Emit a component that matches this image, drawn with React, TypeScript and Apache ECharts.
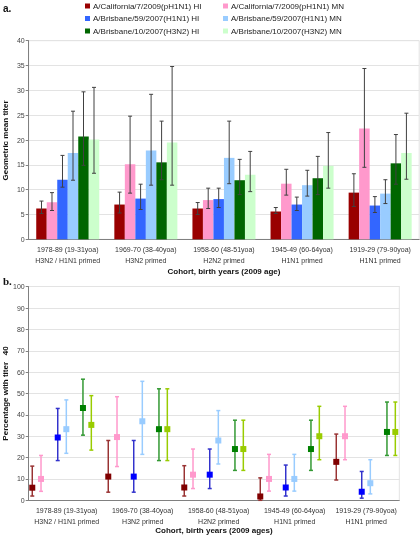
import React, { useEffect, useRef } from "react";
import * as echarts from "echarts";

const cohorts = [
  "1978-89 (19-31yoa)",
  "1969-70 (38-40yoa)",
  "1958-60 (48-51yoa)",
  "1945-49 (60-64yoa)",
  "1919-29 (79-90yoa)",
];
const primed = ["H3N2 / H1N1 primed", "H3N2 primed", "H2N2 primed", "H1N1 primed", "H1N1 primed"];
const seriesNames = [
  "A/California/7/2009(pH1N1) HI",
  "A/California/7/2009(pH1N1) MN",
  "A/Brisbane/59/2007(H1N1) HI",
  "A/Brisbane/59/2007(H1N1) MN",
  "A/Brisbane/10/2007(H3N2) HI",
  "A/Brisbane/10/2007(H3N2) MN",
];
const topColors = ["#990000", "#FF99CC", "#3366FF", "#99CCFF", "#006600", "#CCFFCC"];
const botMarkerColors = ["#800000", "#FF99CC", "#0000FF", "#99CCFF", "#008000", "#99CC00"];
const botBarColors = ["#993333", "#FF99CC", "#3333CC", "#99CCFF", "#339933", "#99CC00"];

// Geometric mean titer: [value, upper, lower] per cohort
const gmtCalHI = [[6.2, 7.7, 5.2], [7.0, 9.5, 5.3], [6.2, 7.4, 5.0], [5.6, 6.4, 5.2], [9.4, 13.2, 6.6]];
const gmtCalMN = [[7.45, 9.4, 5.8], [15.1, 24.8, 9.3], [7.9, 10.3, 6.2], [11.2, 14.1, 8.9], [22.3, 34.4, 14.5]];
const gmtBrH1HI = [[12.0, 16.9, 10.5], [8.2, 11.1, 6.0], [8.1, 10.3, 6.4], [7.0, 8.5, 5.8], [6.8, 8.6, 5.4]];
const gmtBrH1MN = [[17.4, 25.8, 11.9], [17.9, 29.2, 10.9], [16.4, 23.8, 11.2], [10.9, 13.9, 8.7], [9.2, 12.0, 7.2]];
const gmtBrH3HI = [[20.7, 29.7, 14.9], [15.5, 23.8, 12.0], [11.9, 16.1, 9.0], [12.3, 16.7, 9.0], [15.3, 21.1, 11.1]];
const gmtBrH3MN = [[20.1, 30.6, 13.3], [19.5, 34.8, 10.9], [13.0, 17.7, 9.6], [14.8, 21.5, 10.3], [17.4, 25.4, 12.1]];

// Percentage with titer >= 40: [value, upper, lower]
const pctCalHI = [[5.9, 16, 2], [11.1, 28, 3.8], [6, 16.2, 2], [1.8, 10.5, 0], [18, 31, 9.5]];
const pctCalMN = [[10, 21, 4.2], [29.6, 48.5, 15.8], [12, 24, 5.5], [10, 21.5, 4.3], [30, 44, 19]];
const pctBrH1HI = [[29.4, 43, 18.6], [11.1, 28, 3.8], [12, 24, 5.5], [6, 16.5, 2], [4, 13.5, 1]];
const pctBrH1MN = [[33.3, 47, 22], [37, 55.7, 21.5], [28, 42, 17], [10, 21.5, 4.3], [8, 19, 3]];
const pctBrH3HI = [[43.2, 56.7, 30.5], [33.3, 52.2, 18.6], [24, 37.5, 14], [24, 37.5, 14], [32, 46, 21]];
const pctBrH3MN = [[35.3, 49, 23.5], [33.3, 52.2, 18.6], [24, 37.5, 14], [30, 44, 19], [32, 46, 21]];

const gmtAll = [gmtCalHI, gmtCalMN, gmtBrH1HI, gmtBrH1MN, gmtBrH3HI, gmtBrH3MN];
const pctAll = [pctCalHI, pctCalMN, pctBrH1HI, pctBrH1MN, pctBrH3HI, pctBrH3MN];

const FONT = "Liberation Sans";
const BAR_GAP = 0.193;
const botOffsets = [-0.453, -0.338, -0.118, -0.005, 0.214, 0.324];

export default function App() {
  const ref = useRef<HTMLDivElement>(null);
  useEffect(() => {
    const chart = echarts.init(ref.current!, null, { renderer: "svg" });
    const catLabels = cohorts.map((c, i) => c + "\n" + primed[i]);
    const catLabelsBottom = catLabels.map((l, i) =>
      i === cohorts.length - 1 ? { value: l, textStyle: { padding: [0, 9, 0, 0] } } : l
    );

    const barSeries = gmtAll.map((arr, k) => ({
      name: seriesNames[k],
      type: "bar",
      xAxisIndex: 0,
      yAxisIndex: 0,
      barGap: "0%",
      barCategoryGap: BAR_GAP * 100 + "%",
      itemStyle: { color: topColors[k] },
      data: arr.map((d) => d[0]),
    }));

    const errTop = gmtAll.map((arr, k) => ({
      type: "custom",
      xAxisIndex: 0,
      yAxisIndex: 0,
      z: 5,
      data: arr.map((d, i) => [i, d[0], d[1], d[2]]),
      encode: { x: 0, y: 1 },
      renderItem: (params: any, api: any) => {
        const ci = api.value(0);
        const band = api.size([1, 0])[0];
        const bw = (band * (1 - BAR_GAP)) / 6;
        const c = api.coord([ci, api.value(1)]);
        const x = c[0] - (bw * 6) / 2 + (k + 0.5) * bw;
        const yh = api.coord([ci, api.value(2)])[1];
        const yl = api.coord([ci, api.value(3)])[1];
        const st = { stroke: "#404040", lineWidth: 1 };
        return {
          type: "group",
          children: [
            { type: "line", shape: { x1: x, y1: yh, x2: x, y2: yl }, style: st },
            { type: "line", shape: { x1: x - 2, y1: yh, x2: x + 2, y2: yh }, style: st },
            { type: "line", shape: { x1: x - 2, y1: yl, x2: x + 2, y2: yl }, style: st },
          ],
        };
      },
    }));

    const botSeries = pctAll.map((arr, k) => ({
      type: "custom",
      xAxisIndex: 1,
      yAxisIndex: 1,
      z: 5,
      data: arr.map((d, i) => [i, d[0], d[1], d[2]]),
      encode: { x: 0, y: 1 },
      renderItem: (params: any, api: any) => {
        const ci = api.value(0);
        const band = api.size([1, 0])[0];
        const c = api.coord([ci, api.value(1)]);
        const x = c[0] + botOffsets[k] * band;
        const y = c[1];
        const yh = api.coord([ci, api.value(2)])[1];
        const yl = api.coord([ci, api.value(3)])[1];
        const st = { stroke: botBarColors[k], lineWidth: 1.5 };
        return {
          type: "group",
          children: [
            { type: "line", shape: { x1: x, y1: yh, x2: x, y2: yl }, style: st },
            { type: "line", shape: { x1: x - 2, y1: yh, x2: x + 2, y2: yh }, style: st },
            { type: "line", shape: { x1: x - 2, y1: yl, x2: x + 2, y2: yl }, style: st },
            { type: "rect", shape: { x: x - 3, y: y - 3, width: 6, height: 6 }, style: { fill: botMarkerColors[k] } },
          ],
        };
      },
    }));

    const legendPos = [
      [85, 2], [223, 2],
      [85, 14.5], [223, 14.5],
      [85, 27], [223, 27],
    ];
    const legends = seriesNames.map((n, k) => ({
      data: [n],
      left: legendPos[k][0],
      top: legendPos[k][1],
      icon: "rect",
      itemWidth: 5,
      itemHeight: 5,
      itemGap: 0,
      padding: 0,
      selectedMode: false,
      textStyle: { fontFamily: FONT, fontSize: 8, color: "#222", padding: [0, 0, 0, -2] },
    }));

    const catAxis = (gridIndex: number, data: any[]) => ({
      type: "category",
      gridIndex,
      data,
      axisLine: { lineStyle: { color: "#808080", width: 1 } },
      axisTick: { length: 3, lineStyle: { color: "#808080" } },
      axisLabel: {
        margin: 5,
        fontFamily: FONT,
        fontSize: 7,
        lineHeight: 11,
        color: "#333",
        interval: 0,
      },
    });

    const valAxis = (gridIndex: number, max: number, interval: number) => ({
      type: "value",
      gridIndex,
      min: 0,
      max,
      interval,
      axisLine: { show: true, lineStyle: { color: "#808080", width: 1 } },
      axisTick: { show: true, length: 3, lineStyle: { color: "#808080" } },
      axisLabel: { fontFamily: FONT, fontSize: 7, color: "#444", margin: 4 },
      splitLine: { lineStyle: { color: "#E3E3E3", width: 1 } },
    });

    const nameStyle = { fontFamily: FONT, fontSize: 8, fontWeight: "bold", fill: "#111", align: "center", verticalAlign: "middle" };

    chart.setOption({
      animation: false,
      textStyle: { fontFamily: FONT },
      legend: legends,
      grid: [
        { left: 28.7, top: 40.7, width: 390.5, height: 198.6, show: true, borderColor: "#E3E3E3", borderWidth: 1, outerBoundsMode: "none", containLabel: false },
        { left: 28.7, top: 286.7, width: 380, height: 213.6, outerBoundsMode: "none", containLabel: false },
      ],
      xAxis: [catAxis(0, catLabels), catAxis(1, catLabelsBottom)],
      yAxis: [valAxis(0, 40, 5), valAxis(1, 100, 10)],
      series: [...barSeries, ...errTop, ...botSeries],
      graphic: [
        { type: "rect", z: 100, shape: { x: 399.8, y: 280, width: 21, height: 225 }, style: { fill: "#fff" } },
        { type: "line", z: 101, shape: { x1: 399.3, y1: 286.7, x2: 399.3, y2: 500.3 }, style: { stroke: "#E3E3E3", lineWidth: 1 } },
        { type: "text", z: 101, x: 3, y: 3, style: { text: "a.", fontFamily: FONT, fontSize: 10, fontWeight: "bold", fill: "#111" } },
        { type: "text", z: 101, x: 3, y: 275, style: { text: "b.", fontFamily: "Liberation Serif", fontSize: 11, fontWeight: "bold", fill: "#111" } },
        { type: "text", z: 101, x: 5, y: 140.5, rotation: Math.PI / 2, style: { ...nameStyle, text: "Geometric mean titer" } },
        { type: "text", z: 101, x: 5, y: 393.5, rotation: Math.PI / 2, style: { ...nameStyle, text: "Percentage with titer   40" } },
        { type: "text", z: 101, x: 224, y: 271, style: { ...nameStyle, text: "Cohort, birth years (2009 age)" } },
        { type: "text", z: 101, x: 214, y: 530.5, style: { ...nameStyle, text: "Cohort, birth years (2009 ages)" } },
      ],
    });
    return () => chart.dispose();
  }, []);
  return <div ref={ref} style={{ position: "fixed", left: 0, top: 0, width: 420, height: 535 }} />;
}
